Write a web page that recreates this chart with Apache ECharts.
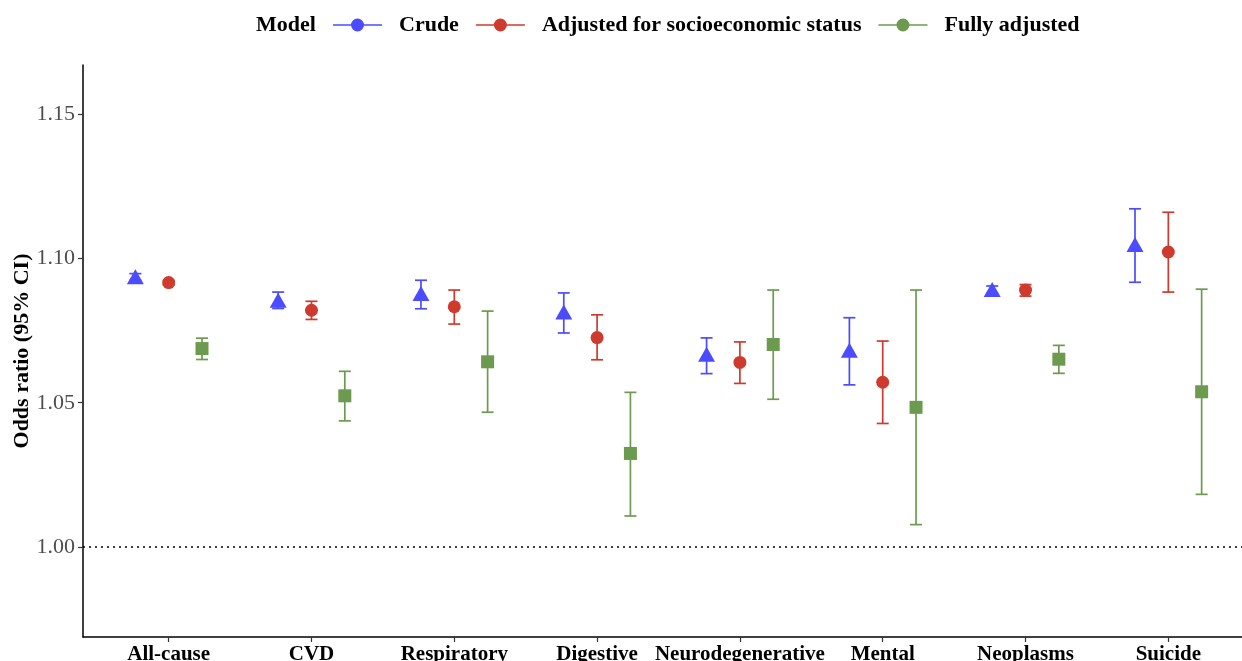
<!DOCTYPE html>
<html>
<head>
<meta charset="utf-8">
<script src="https://cdn.jsdelivr.net/npm/echarts@6/dist/echarts.min.js"></script>
<style>
html,body{margin:0;padding:0;background:#fff;}
#chart{width:1242px;height:661px;}
</style>
</head>
<body>
<div id="chart"></div>
<script>
// ---- data ----
const categories = ['All-cause','CVD','Respiratory','Digestive','Neurodegenerative','Mental','Neoplasms','Suicide'];
const seriesNames = ['Crude','Adjusted for socioeconomic status','Fully adjusted'];

const crudeOR = [1.0937, 1.0856, 1.0879, 1.0815, 1.0668, 1.0682, 1.0893, 1.1049];
const crudeLo = [1.0925, 1.0827, 1.0826, 1.0742, 1.0601, 1.0562, 1.0880, 1.0918];
const crudeHi = [1.0948, 1.0884, 1.0925, 1.0881, 1.0725, 1.0795, 1.0905, 1.1173];

const sesOR = [1.0917, 1.0821, 1.0833, 1.0726, 1.0640, 1.0571, 1.0891, 1.1023];
const sesLo = [1.0908, 1.0789, 1.0773, 1.0649, 1.0567, 1.0428, 1.0870, 1.0884];
const sesHi = [1.0924, 1.0852, 1.0891, 1.0805, 1.0711, 1.0714, 1.0910, 1.1161];

const fullOR = [1.0688, 1.0524, 1.0642, 1.0324, 1.0702, 1.0484, 1.0651, 1.0538];
const fullLo = [1.0650, 1.0437, 1.0467, 1.0107, 1.0512, 1.0077, 1.0602, 1.0182];
const fullHi = [1.0724, 1.0609, 1.0818, 1.0536, 1.0891, 1.0891, 1.0699, 1.0894];

const yTicks = [1.00, 1.05, 1.10, 1.15];

// ---- styling ----
const colors = ['#4B4BFF', '#CF3A2E', '#6C9A4F'];
const symbols = ['triangle', 'circle', 'rect'];
const symbolSizes = [[17, 15], 13, 13];
const dodge = 0.7;
const offsets = [-dodge / 3, 0, dodge / 3];
const FONT = '"Liberation Serif", "Times New Roman", serif';

const groups = [
  {or: crudeOR, lo: crudeLo, hi: crudeHi},
  {or: sesOR, lo: sesLo, hi: sesHi},
  {or: fullOR, lo: fullLo, hi: fullHi}
];

function errRenderer(color) {
  return function (params, api) {
    const x = api.value(0), lo = api.value(1), hi = api.value(2);
    const pLo = api.coord([x, lo]), pHi = api.coord([x, hi]);
    const hw = 6;
    const style = {stroke: color, lineWidth: 1.7, fill: null};
    return {
      type: 'group',
      children: [
        {type: 'line', shape: {x1: pLo[0], y1: pLo[1], x2: pHi[0], y2: pHi[1]}, style: style},
        {type: 'line', shape: {x1: pLo[0] - hw, y1: pLo[1], x2: pLo[0] + hw, y2: pLo[1]}, style: style},
        {type: 'line', shape: {x1: pHi[0] - hw, y1: pHi[1], x2: pHi[0] + hw, y2: pHi[1]}, style: style}
      ]
    };
  };
}

const series = [];
// reference line at OR = 1
series.push({
  type: 'scatter', data: [], silent: true,
  markLine: {
    silent: true, symbol: 'none', label: {show: false},
    lineStyle: {type: [2, 4], color: '#000', width: 1.6},
    data: [{yAxis: 1}]
  }
});
groups.forEach(function (g, k) {
  series.push({
    type: 'custom',
    name: seriesNames[k] + ' CI',
    renderItem: errRenderer(colors[k]),
    encode: {x: 0, y: [1, 2]},
    data: categories.map(function (c, i) { return [i + 1 + offsets[k], g.lo[i], g.hi[i]]; }),
    z: 2
  });
});
groups.forEach(function (g, k) {
  series.push({
    type: 'scatter',
    name: seriesNames[k],
    symbol: symbols[k],
    symbolSize: symbolSizes[k],
    itemStyle: {color: colors[k], opacity: 1},
    data: categories.map(function (c, i) { return [i + 1 + offsets[k], g.or[i]]; }),
    z: 3
  });
});

const legendIcon = 'path://M0,6.3H49V7.7H0Z M18,7A6.5,6.5 0 1 1 31,7A6.5,6.5 0 1 1 18,7Z';

const option = {
  animation: false,
  backgroundColor: '#fff',
  title: {
    text: 'Model', left: 256, top: 14, padding: 0,
    textStyle: {fontFamily: FONT, fontWeight: 'bold', fontSize: 22, color: '#000'}
  },
  legend: {
    left: 333, top: 14, padding: 0,
    itemWidth: 49, itemHeight: 13, itemGap: 17,
    data: seriesNames.map(function (n) { return {name: n, icon: legendIcon}; }),
    textStyle: {fontFamily: FONT, fontWeight: 'bold', fontSize: 22, color: '#000', padding: [0, 0, 0, 12]}
  },
  grid: {left: 83, right: -12, top: 65, bottom: 24, containLabel: false, outerBoundsMode: 'none'},
  xAxis: {
    type: 'value', min: 0.4, max: 8.6,
    splitLine: {show: false},
    axisLine: {show: true, onZero: false, lineStyle: {color: '#000', width: 1.5}},
    axisTick: {show: true, customValues: categories.map(function (c, i) { return i + 1; }), length: 5, lineStyle: {color: '#333', width: 1.2}},
    axisLabel: {
      customValues: categories.map(function (c, i) { return i + 1; }),
      formatter: function (v) { return categories[Math.round(v) - 1] || ''; },
      fontFamily: FONT, fontWeight: 'bold', fontSize: 21, color: '#000', margin: 7
    }
  },
  yAxis: {
    type: 'value', min: 0.9687, max: 1.1672,
    name: 'Odds ratio (95% CI)', nameLocation: 'middle', nameGap: 50, nameRotate: 90,
    nameMoveOverlap: false,
    nameTextStyle: {fontFamily: FONT, fontWeight: 'bold', fontSize: 22, color: '#000'},
    splitLine: {show: false},
    axisLine: {show: true, onZero: false, lineStyle: {color: '#000', width: 1.5}},
    axisTick: {show: true, customValues: yTicks, length: 5, lineStyle: {color: '#333', width: 1.2}},
    axisLabel: {
      customValues: yTicks,
      formatter: function (v) { return v.toFixed(2); },
      fontFamily: FONT, fontSize: 22, color: '#4D4D4D', margin: 8
    }
  },
  series: series
};

const chart = echarts.init(document.getElementById('chart'), null, {renderer: 'canvas'});
chart.setOption(option);
</script>
</body>
</html>
